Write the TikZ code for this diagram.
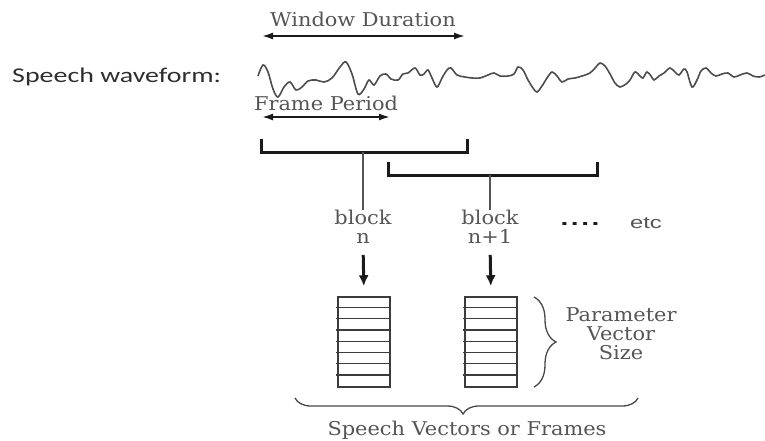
\documentclass[tikz,border=0pt]{standalone}
\usepackage{fontspec}
\setmainfont{DejaVu Serif}[FakeStretch=1.1]
\newfontfamily\waveLabelFont{Carlito}[FakeStretch=1.33]
\newfontfamily\etcFont{Liberation Sans}[FakeStretch=1.4]
\definecolor{inkcol}{HTML}{1a1a1a}
\definecolor{textcol}{HTML}{555555}
\definecolor{wavecol}{HTML}{4d4d4d}
\definecolor{labelcol}{HTML}{2e2e2e}
\usetikzlibrary{arrows.meta,decorations.pathreplacing}
\tikzset{
  serif text/.style={text=textcol, font=\fontsize{19}{19}\selectfont, inner sep=0pt, align=center},
  span arrow/.style={inkcol, line width=1.8pt, {Latex[length=11pt,width=7pt]}-{Latex[length=11pt,width=7pt]}},
  window bracket/.style={inkcol, line width=3pt, line join=miter},
  stem/.style={textcol, line width=1.2pt},
  down arrow/.style={inkcol, line width=3pt, -{Latex[length=11pt,width=10pt]}},
  frame box/.style={draw=inkcol!85, line width=1.5pt, minimum width=52pt, minimum height=90pt, inner sep=0pt},
  row line/.style={inkcol!85, line width=1.2pt},
  curly brace/.style={inkcol!80, line width=1.3pt, decorate, decoration={brace, amplitude=#1}},
}

\begin{document}
\begin{tikzpicture}[x=1pt, y=-1pt]
\useasboundingbox (0,0) rectangle (765,441);

% === TOP: waveform with window / frame spans ===
\node[anchor=west, inner sep=0pt, text=labelcol, font=\waveLabelFont\fontsize{21}{24}\selectfont] (wavelabel) at (12,77) {Speech waveform:};

\draw[wavecol, line width=1.6pt, smooth, tension=0.55] plot coordinates {
  (258,76) (263,65) (268,72) (273,89) (278,97) (284,87) (290,82) (296,90)
  (302,87) (308,81) (316,80) (324,82) (332,78) (340,67) (346,62) (352,74)
  (358,94) (364,89) (369,80) (374,85) (380,76) (386,74) (391,79) (398,80)
  (403,74) (408,73) (415,68) (420,75) (424,74) (428,70) (432,78) (437,87)
  (442,78) (447,70) (451,68) (457,75) (465,77) (472,78) (480,78) (488,75)
  (494,73) (500,76) (508,76) (514,74) (518,67) (523,70) (528,80) (533,88)
  (537,92) (542,86) (547,78) (552,72) (557,76) (562,82) (568,79) (575,78)
  (582,76) (590,73) (596,67) (600,63) (605,66) (610,74) (615,83) (620,87)
  (626,84) (630,80) (635,72) (640,76) (643,78) (647,72) (651,76) (654,80)
  (659,76) (664,73) (670,68) (675,72) (679,75) (684,69) (687,72) (692,87)
  (697,80) (701,71) (706,68) (711,73) (716,76) (722,74) (728,73) (734,77)
  (740,75) (747,73) (753,76) (759,77) (765,75)};

\node[serif text] (window) at (363,19) {Window Duration};
\coordinate (winL) at (262,36);
\coordinate (winR) at (465,36);
\draw[span arrow] (winL) -- (winR);

\node[serif text] (period) at (326,103) {Frame Period};
\coordinate (perL) at (262,117);
\coordinate (perR) at (390,117);
\draw[span arrow] (perL) -- (perR);

% === MIDDLE: overlapping windows -> blocks ===
\coordinate (blkA) at (363,152);
\coordinate (blkB) at (490,175);
\draw[window bracket] (261,139) |- (blkA) -| (467,139);
\draw[window bracket] (388,162) |- (blkB) -| (597,162);

\node[serif text] (blockA) at (363,227) {block\\n};
\node[serif text] (blockB) at (490,227) {block\\n+1};
\node[text=inkcol, inner sep=0pt, font=\etcFont\bfseries\fontsize{20}{22}\selectfont] (dots) at (580,224) {.\kern2.5pt.\kern2.5pt.\kern2.5pt.};
\node[text=textcol, inner sep=0pt, font=\etcFont\fontsize{17}{20}\selectfont] (etc) at (646,223) {etc};

\draw[stem] (blkA) -- (blockA.north);
\draw[stem] (blkB) -- (blockB.north);

% === BOTTOM: parameter vectors ===
\node[frame box] (frameA) at (364,342) {};
\node[frame box] (frameB) at (491,342) {};
\foreach \f in {frameA,frameB}
  \foreach \k in {1,...,7}
    \draw[row line] (\f.north west) ++(-1,\k*11.25) -- ++(53,0);

\draw[down arrow, shorten <=11pt, shorten >=10pt] (blockA.south) -- (frameA.north);
\draw[down arrow, shorten <=11pt, shorten >=10pt] (blockB.south) -- (frameB.north);

\coordinate (sizeT) at (534,297);
\coordinate (sizeB) at (534,387);
\draw[curly brace=22pt] (sizeT) -- (sizeB);
\node[serif text] (size) at (621,334) {Parameter\\Vector\\Size};

\coordinate (allR) at (638,398);
\coordinate (allL) at (295,398);
\draw[curly brace=16pt, decoration={aspect=0.51}] (allR) -- (allL);
\node[serif text] (vectors) at (467,430) {Speech Vectors or Frames};

\end{tikzpicture}
\end{document}
